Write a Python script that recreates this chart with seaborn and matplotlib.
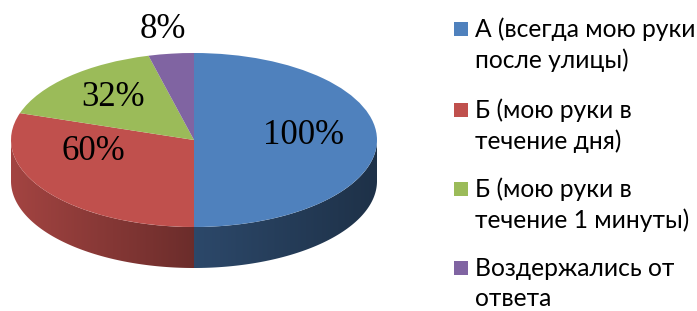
import numpy as np
import matplotlib
matplotlib.use("Agg")
import matplotlib.pyplot as plt
import seaborn as sns
from matplotlib.transforms import Affine2D
from matplotlib.patches import Polygon, Rectangle

# Data
categories = ['А (всегда мою руки\nпосле улицы)', 'Б (мою руки в\nтечение дня)',
              'Б (мою руки в\nтечение 1 минуты)', 'Воздержались от\nответа']
values = [100, 60, 32, 8]
value_labels = [f'{v}%' for v in values]

sns.set_theme(style="white")
plt.rcParams['font.family'] = ['Lato', 'DejaVu Sans']
colors = sns.color_palette(["#4F81BD", "#C0504D", "#9BBB59", "#8064A2"])

W, H = 697, 311
fig = plt.figure(figsize=(W / 100, H / 100), dpi=100)
ax = fig.add_axes([0, 0, 1, 1])

# pie geometry (pixels, y up)
CX, CY = 194, H - 140
RX, RY = 183, 87
DEPTH = 41
squash = Affine2D().scale(RX, RY).translate(CX, CY) + ax.transData

wedges, _ = ax.pie(values, colors=colors, startangle=90, counterclock=False,
                   radius=1, center=(0, 0), wedgeprops=dict(linewidth=0))
for w in wedges:
    w.set_transform(squash)
    w.set_zorder(3)

# side wall of the 3D pie: one polygon per slice, filled with a left-to-right shade
for w, c in zip(wedges, colors):
    th = np.radians(np.linspace(w.theta1, w.theta2, 400))
    th = th[np.sin(th) <= 1e-9]
    if len(th) < 2:
        continue
    xs = CX + RX * np.cos(th)
    ys = CY + RY * np.sin(th)
    pts = list(zip(xs, ys)) + list(zip(xs[::-1], ys[::-1] - DEPTH))
    poly = Polygon(pts, closed=True, facecolor='none', edgecolor='none', zorder=2)
    ax.add_patch(poly)
    gx = np.linspace(xs.min(), xs.max(), 300)
    shade = np.interp((gx - CX) / RX, [-1, 0, 1], [0.85, 0.56, 0.38])
    img = np.clip(np.array(c)[None, None, :] * shade[None, :, None], 0, 1)
    im = ax.imshow(img, extent=(xs.min(), xs.max(), ys.min() - DEPTH, ys.max()),
                   aspect='auto', origin='lower', zorder=2, interpolation='bilinear')
    im.set_clip_path(poly)

ax.set_xlim(0, W)
ax.set_ylim(0, H)
ax.set_aspect('auto')
ax.axis('off')

# value labels
label_pos = [(304, 135), (93, 152), (113, 97), (163, 30)]
for (x, y), txt in zip(label_pos, value_labels):
    ax.text(x, H - y, txt, ha='center', va='center', fontsize=25,
            family=['Liberation Serif'], color='black', zorder=5)

# legend
entry_y = [29, 110, 189, 268]
for y, lab, c in zip(entry_y, categories, colors):
    ax.add_patch(Rectangle((454, H - y - 7), 14, 14, facecolor=c, edgecolor='none', zorder=5))
    for i, ln in enumerate(lab.split('\n')):
        ax.text(475, H - (y + 31 * i), ln, ha='left', va='center', fontsize=17.7,
                color='black', zorder=5)

fig.savefig('out.png', dpi=100, facecolor='white')
